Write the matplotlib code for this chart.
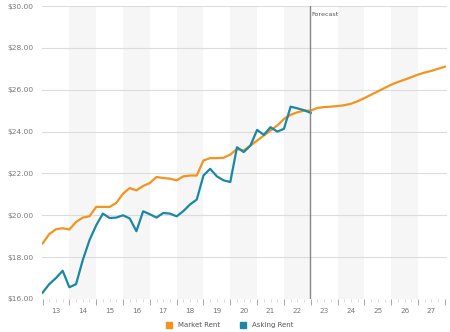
import matplotlib
matplotlib.use("Agg")
import matplotlib.pyplot as plt
from matplotlib.lines import Line2D
import numpy as np

# Quarterly data, starting 2013 Q1
start_year = 2013
market_hist = [18.65, 19.10, 19.33, 19.38, 19.32, 19.68, 19.89, 19.95, 20.40, 20.40,
               20.40, 20.59, 21.03, 21.30, 21.19, 21.40, 21.54, 21.83, 21.78, 21.75,
               21.67, 21.86, 21.90, 21.90, 22.62, 22.73, 22.73, 22.75, 22.90, 23.17,
               23.10, 23.33, 23.57, 23.81, 24.05, 24.29, 24.60, 24.80, 24.92, 25.00,
               25.00]
market_forecast = [25.13, 25.17, 25.19, 25.22, 25.26, 25.33, 25.45, 25.60, 25.76, 25.92,
                   26.08, 26.24, 26.37, 26.48, 26.60, 26.72, 26.82, 26.90, 27.00, 27.10]
asking = [16.30, 16.71, 17.00, 17.35, 16.56, 16.71, 17.86, 18.81, 19.52, 20.08,
          19.87, 19.89, 20.00, 19.85, 19.24, 20.19, 20.05, 19.89, 20.11, 20.08,
          19.95, 20.20, 20.52, 20.75, 21.90, 22.22, 21.86, 21.67, 21.59, 23.25,
          23.02, 23.33, 24.08, 23.84, 24.21, 24.00, 24.13, 25.19, 25.11, 25.02,
          24.89]
year_labels = ["13", "14", "15", "16", "17", "18", "19", "20", "21", "22", "23", "24", "25", "26", "27"]
y_ticks = [16, 18, 20, 22, 24, 26, 28, 30]
forecast_year = 2023.0

market = market_hist + market_forecast
xm = start_year + np.arange(len(market)) / 4.0
xa = start_year + np.arange(len(asking)) / 4.0

ORANGE = "#F4931E"
TEAL = "#1A88A5"

fig = plt.figure(figsize=(4.5, 3.32), dpi=100)
ax = fig.add_axes([42/450, 1-299/332, (447-42)/450, (299-6)/332])

# background year bands
for i, lab in enumerate(year_labels):
    y0 = start_year + i
    if i % 2 == 1:
        ax.axvspan(y0, y0 + 1, color="#f6f6f6", zorder=0, lw=0)

ax.set_ylim(16, 30)
ax.set_xlim(2012.98, 2028.08)

for v in y_ticks:
    ax.axhline(v, color="#dcdcdc", lw=0.8, zorder=1)

ax.plot(xm, market, color=ORANGE, lw=1.6, zorder=3, solid_joinstyle="round")
ax.plot(xa, asking, color=TEAL, lw=1.6, zorder=4, solid_joinstyle="round")

ax.axvline(forecast_year - 0.03, color="#8a8585", lw=1.0, zorder=5)
ax.text(forecast_year + 0.03, 29.6, "Forecast", fontsize=4.6, color="#555555",
        ha="left", va="center")

for s in ax.spines.values():
    s.set_visible(False)

ax.set_yticks(y_ticks)
ax.set_yticklabels([f"${v:.2f}" for v in y_ticks], fontsize=5.4, color="#777777")
ax.tick_params(axis="y", length=0, pad=6)

years = np.arange(start_year, start_year + len(year_labels) + 1)
ax.set_xticks(years)
ax.set_xticklabels([])
ax.set_xticks(start_year + np.arange(0, 4 * len(year_labels) + 1) / 4.0, minor=True)
ax.tick_params(axis="x", which="major", length=4, color="#999999", width=0.6, direction="out")
ax.tick_params(axis="x", which="minor", length=2, color="#cccccc", width=0.5, direction="out")
for i, lab in enumerate(year_labels):
    ax.text(start_year + i + 0.5, 15.45, lab, fontsize=5.2, color="#777777",
            ha="center", va="center")

handles = [Line2D([], [], marker="s", color="none", markerfacecolor=ORANGE,
                  markeredgecolor=ORANGE, markersize=5, label="Market Rent"),
           Line2D([], [], marker="s", color="none", markerfacecolor=TEAL,
                  markeredgecolor=TEAL, markersize=5, label="Asking Rent")]
fig.legend(handles=handles, loc="center", bbox_to_anchor=(228/450, 1-325/332), ncol=2,
           frameon=False, fontsize=5.0, handletextpad=0.3, columnspacing=2.3,
           labelcolor="#555555")

fig.savefig("out.png", dpi=100)
